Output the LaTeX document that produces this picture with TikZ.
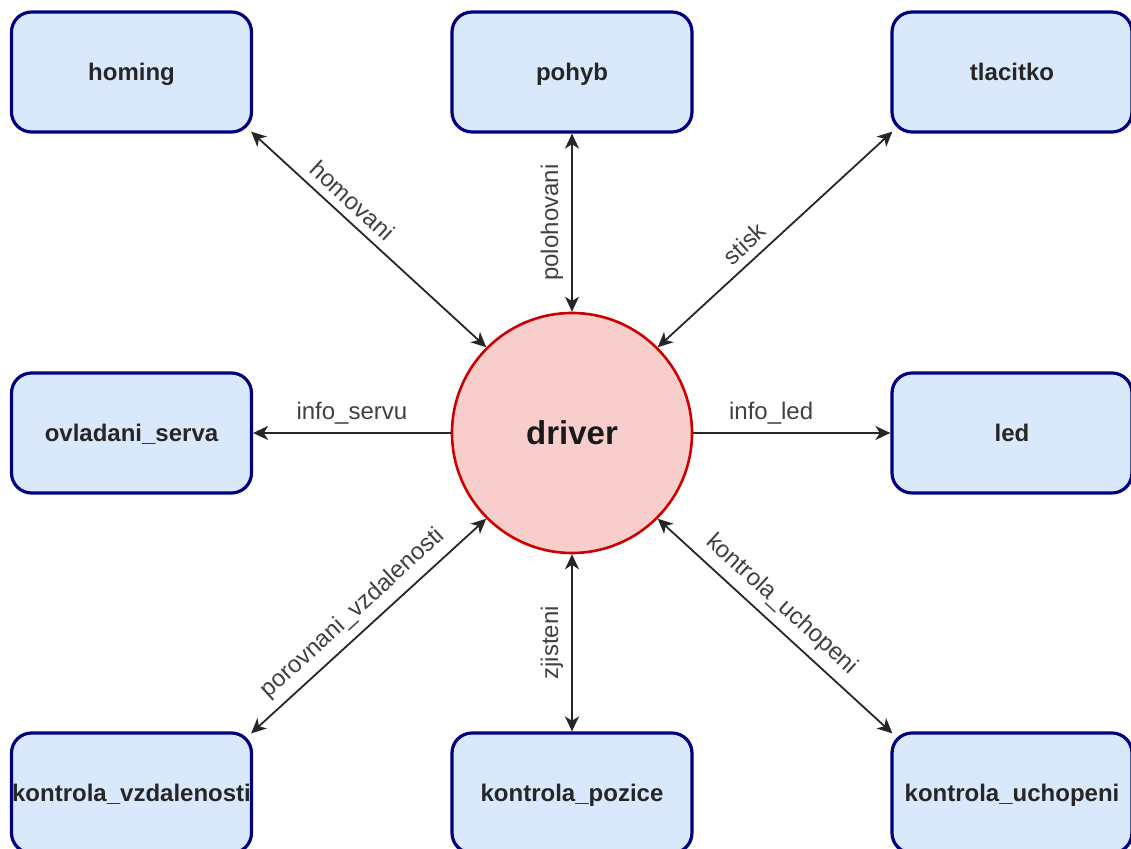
\documentclass[tikz,border=0pt]{standalone}
\usepackage{fontspec}
\setmainfont{Liberation Sans}
\usetikzlibrary{arrows.meta}
\definecolor{boxfill}{HTML}{DAE8FC}
\definecolor{boxline}{HTML}{000080}
\definecolor{drvfill}{HTML}{F8CECC}
\definecolor{drvline}{HTML}{CC0000}
\begin{document}
\begin{tikzpicture}[x=0.5pt,y=-0.5pt,
  box/.style={draw=boxline, fill=boxfill, line width=1.6pt, rounded corners=10pt,
    minimum width=120pt, minimum height=60pt, inner sep=0pt,
    text height=9.5pt, text depth=0.5pt,
    font=\fontsize{12}{14}\selectfont\bfseries, text=black!85},
  drv/.style={circle, draw=drvline, fill=drvfill, line width=1.3pt, minimum size=120pt,
    inner sep=0pt, font=\fontsize{16.5}{19}\selectfont\bfseries, text=black!90},
  link/.style={draw=black!85, line width=0.9pt},
  tip/.style={-{Stealth[length=7.5pt,width=7pt,inset=2.2pt]}},
  both/.style={{Stealth[length=7.5pt,width=7pt,inset=2.2pt]}-{Stealth[length=7.5pt,width=7pt,inset=2.2pt]}},
  lbl/.style={font=\fontsize{12}{14}\selectfont, text=black!75, inner sep=4pt}
]
\useasboundingbox (0,0) rectangle (1131,849);

\node[box] (homing) at (131.5,72) {homing};
\node[box] (pohyb) at (572,72) {pohyb};
\node[box] (tlacitko) at (1012,72) {tlacitko};
\node[box] (serva) at (131.5,433) {ovladani\_serva};
\node[box] (led) at (1012,433) {led};
\node[box] (kvz) at (131.5,793) {kontrola\_vzdalenosti};
\node[box] (kpoz) at (572,793) {kontrola\_pozice};
\node[box] (kuch) at (1012,793) {kontrola\_uchopeni};
\node[drv] (drv) at (572,433) {driver};

\coordinate (hC) at ([shift={(-2,-2)}]homing.south east);
\coordinate (tC) at ([shift={(2,-2)}]tlacitko.south west);
\coordinate (vC) at ([shift={(-2,2)}]kvz.north east);
\coordinate (uC) at ([shift={(2,2)}]kuch.north west);

\draw[link,both] (hC) -- node[lbl, sloped, above, pos=0.38] {homovani} (drv.135);
\draw[link,both] (pohyb.south) -- node[lbl, rotate=90, above, pos=0.5] {polohovani} (drv.north);
\draw[link,both] (drv.45) -- node[lbl, sloped, above, pos=0.42] {stisk} (tC);
\draw[link,tip] (drv.west) -- node[lbl, above, pos=0.5] {info\_servu} (serva.east);
\draw[link,tip] (drv.east) -- node[lbl, above, pos=0.395] {info\_led} (led.west);
\draw[link,both] (vC) -- node[lbl, sloped, above, pos=0.49] {porovnani\_vzdalenosti} (drv.225);
\draw[link,both] (kpoz.north) -- node[lbl, rotate=90, above, pos=0.5] {zjisteni} (drv.south);
\draw[link,both] (drv.315) -- node[lbl, sloped, above, pos=0.47] {kontrola\_uchopeni} (uC);
\end{tikzpicture}
\end{document}
